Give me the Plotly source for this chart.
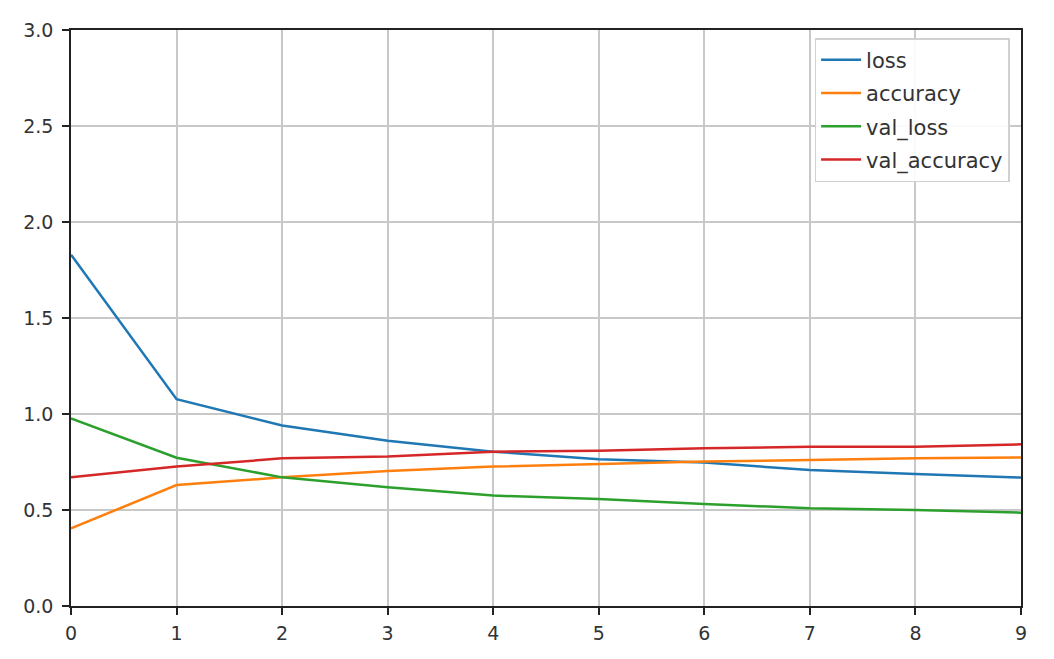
import plotly.graph_objects as go

epochs = [0, 1, 2, 3, 4, 5, 6, 7, 8, 9]
loss = [1.83, 1.077, 0.94, 0.861, 0.804, 0.764, 0.747, 0.708, 0.688, 0.669]
accuracy = [0.404, 0.630, 0.670, 0.703, 0.726, 0.738, 0.752, 0.760, 0.769, 0.774]
val_loss = [0.977, 0.772, 0.670, 0.618, 0.575, 0.557, 0.531, 0.509, 0.500, 0.486]
val_accuracy = [0.670, 0.726, 0.769, 0.778, 0.804, 0.809, 0.821, 0.830, 0.830, 0.842]
y_ticks = [0, 0.5, 1.0, 1.5, 2.0, 2.5, 3.0]
y_ticklabels = ["0.0", "0.5", "1.0", "1.5", "2.0", "2.5", "3.0"]

series = [
    ("loss", loss, "#1f77b4"),
    ("accuracy", accuracy, "#ff7f0e"),
    ("val_loss", val_loss, "#2ca02c"),
    ("val_accuracy", val_accuracy, "#d62728"),
]

fig = go.Figure()
for name, vals, color in series:
    fig.add_trace(go.Scatter(x=epochs, y=vals, mode="lines", name=name,
                             legendgroup=name,
                             line=dict(color=color, width=2.5)))

axis_common = dict(
    showline=True, linecolor="#222", linewidth=1.5, mirror=True,
    showgrid=True, gridcolor="#c8c8c8", gridwidth=1.5,
    ticks="outside", ticklen=7, tickcolor="#222", tickwidth=1.5,
    zeroline=False,
    tickfont=dict(family="DejaVu Sans", size=19, color="#333"),
)

fig.update_layout(
    width=1046, height=651,
    margin=dict(l=63, r=33, t=22, b=53),
    paper_bgcolor="white", plot_bgcolor="white",
    xaxis=dict(range=[0, 9], tickmode="array", tickvals=epochs,
               ticklabelstandoff=2, **axis_common),
    yaxis=dict(range=[0, 3], tickmode="array",
               tickvals=y_ticks, ticktext=y_ticklabels,
               ticklabelstandoff=5, **axis_common),
    legend=dict(x=0.988, y=0.986, xanchor="right", yanchor="top",
                bgcolor="rgba(255,255,255,0.9)", bordercolor="#d0d0d0", borderwidth=1.5,
                font=dict(family="DejaVu Sans", size=21, color="#333"),
                traceorder="grouped", tracegroupgap=3,
                itemwidth=40),
    showlegend=True,
)

fig.write_html("out.html")
